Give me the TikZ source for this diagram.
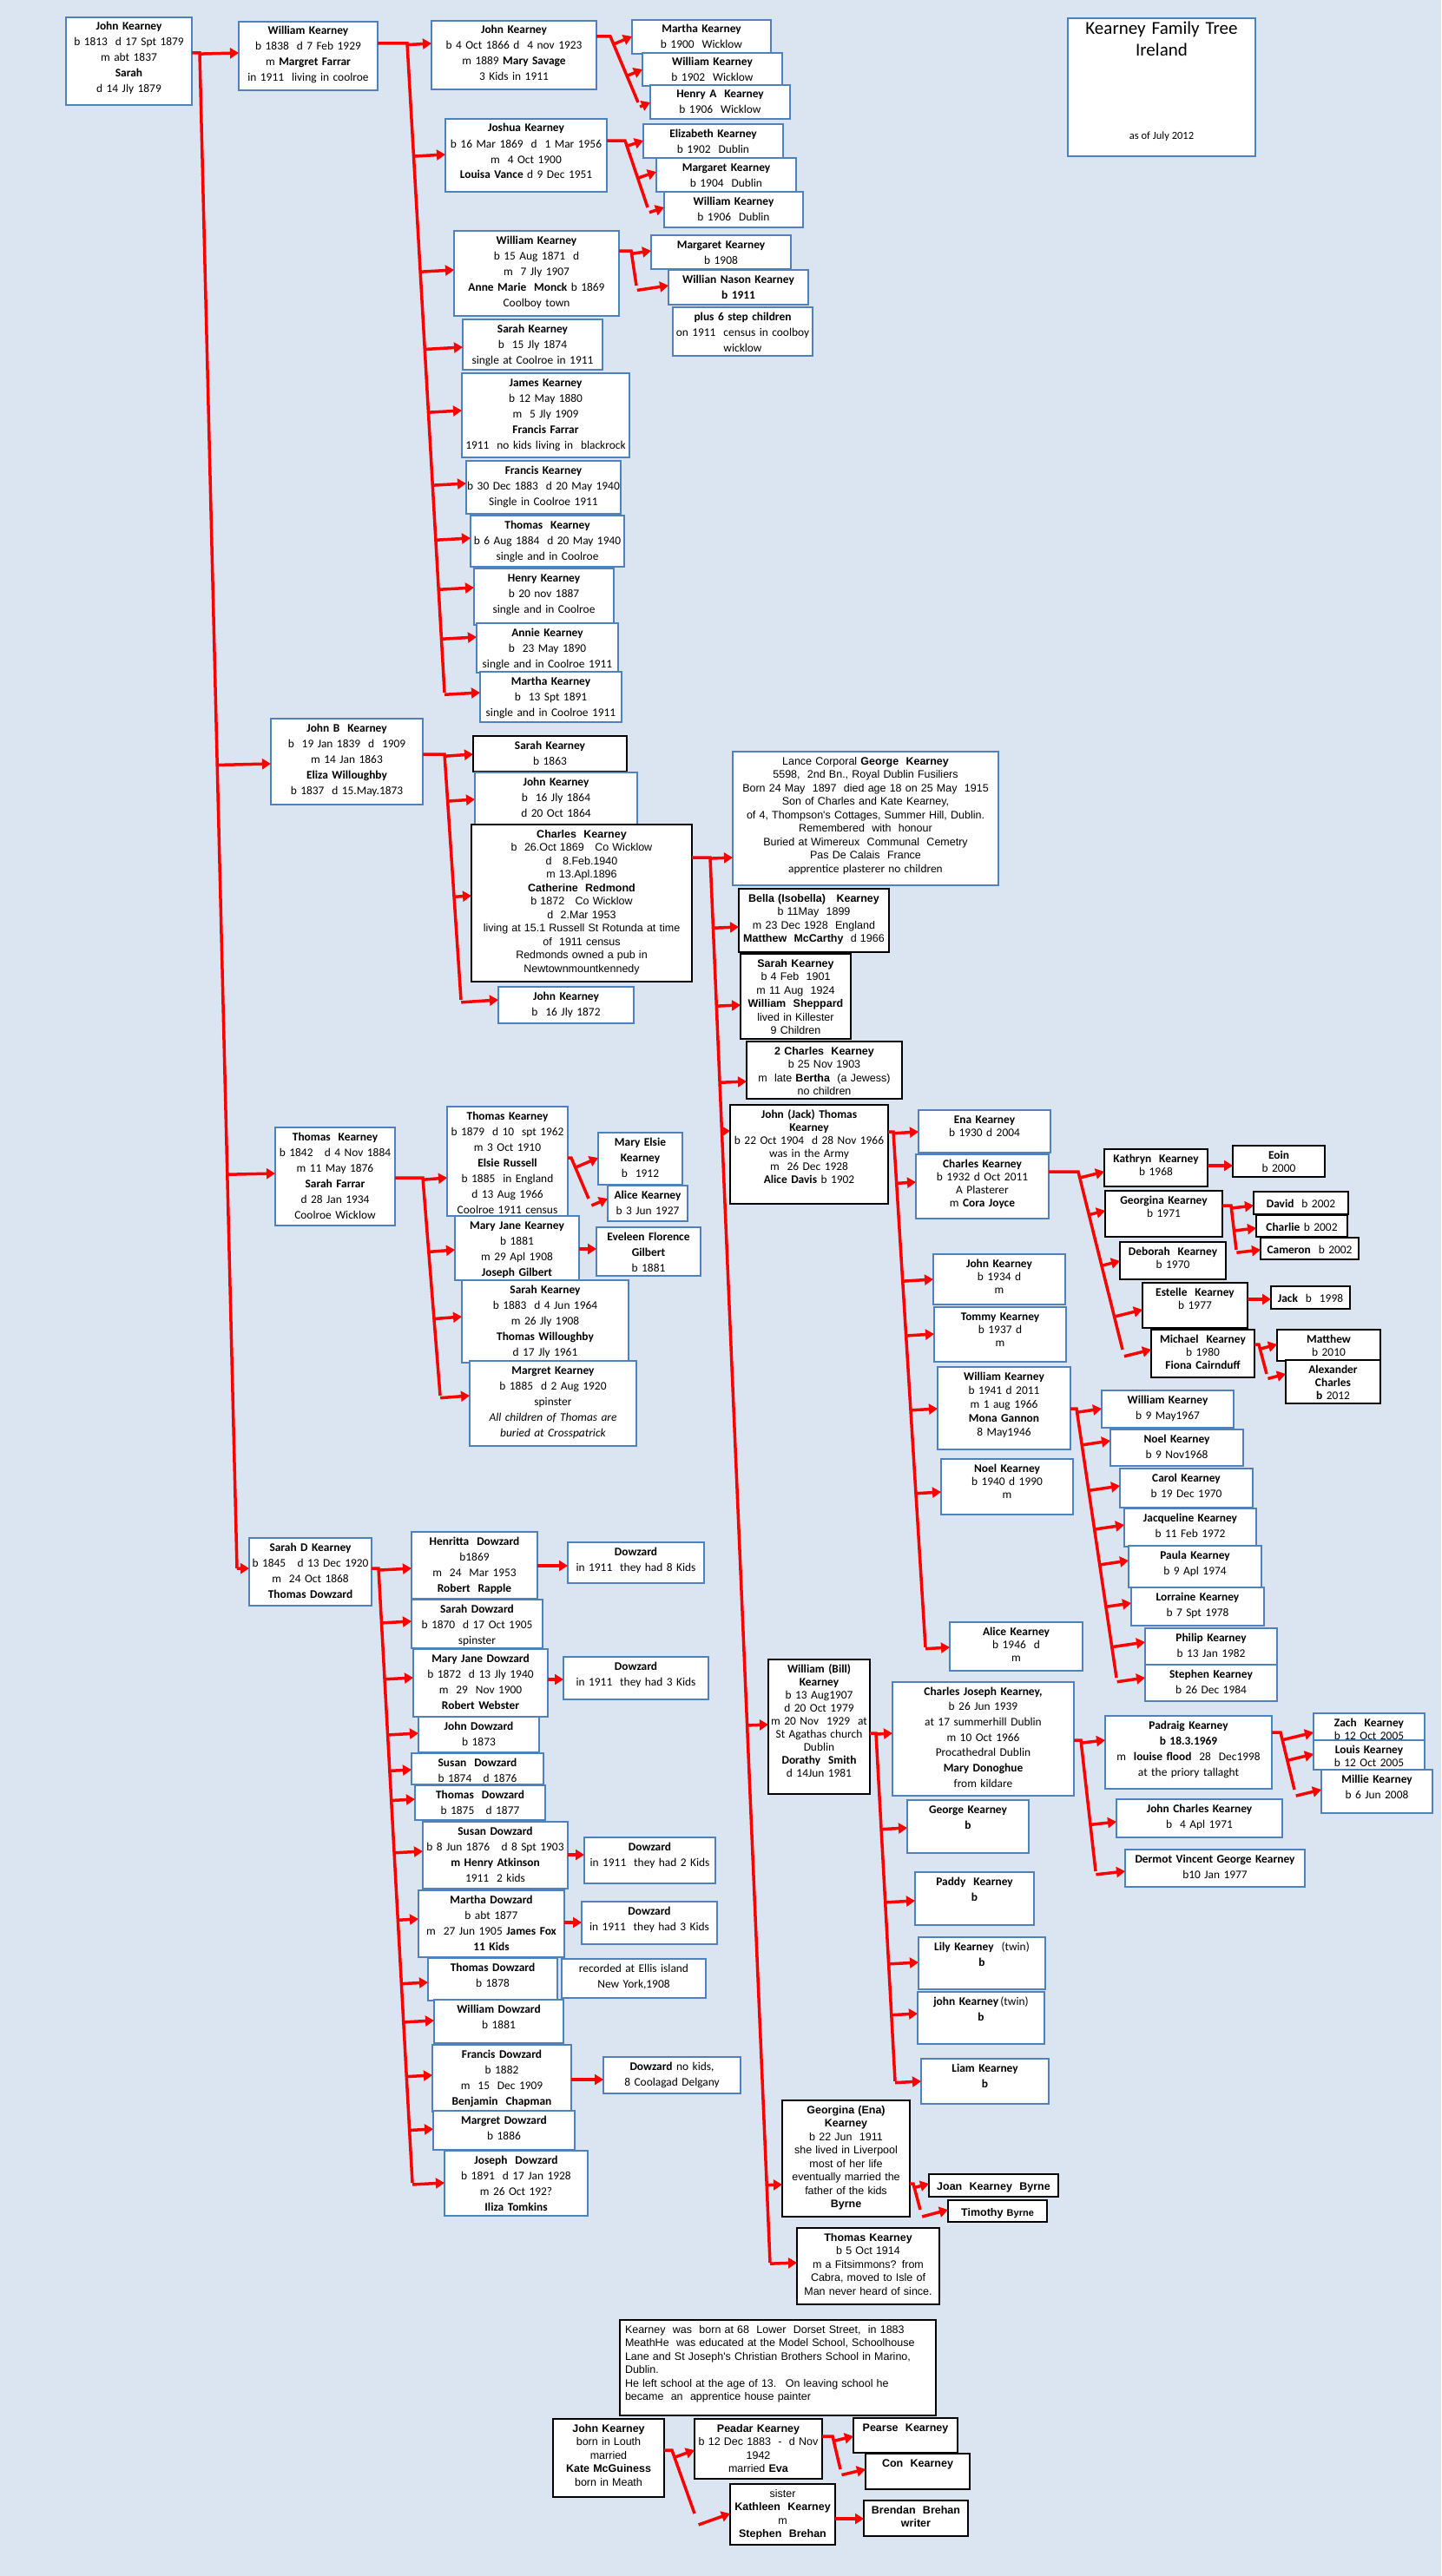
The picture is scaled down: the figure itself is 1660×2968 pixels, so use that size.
\documentclass[tikz,border=0pt]{standalone}
\usepackage{fontspec}
\setmainfont{Carlito}
\newfontfamily\arialfont{Liberation Sans}
\usetikzlibrary{arrows.meta,calc}
\definecolor{sheet}{RGB}{219,229,241}
\definecolor{rim}{RGB}{79,129,189}
\tikzset{
  pb/.style={draw=rim,fill=white,line width=1.2pt,anchor=north,align=center,inner xsep=-10pt,inner ysep=0pt,outer sep=0pt,text height=15pt,font=\fontsize{13.4}{18}\selectfont},
  pk/.style={pb,draw=black},
  ct/.style={font=\fontsize{13.4}{15}\selectfont},
  af/.style={font=\arialfont\fontsize{12.5}{15.5}\selectfont},
  sz/.style 2 args={text width=#1pt,text depth=#2pt},
  ln/.style={draw=red,line width=3.5pt},
  arr/.style={ln,-{Triangle[length=10pt,width=12pt]}},
}
\begin{document}
\begin{tikzpicture}[x=1pt,y=-1pt]
\useasboundingbox (0,0) rectangle (1660,2968);
\fill[sheet] (0,0) rectangle (1660,2968);
\node[pb,sz={236}{140},font=\fontsize{21}{25}\selectfont,text height=19pt] (ttl) at (1338,21) {Kearney Family Tree\\Ireland};
\node[font=\fontsize{12.5}{15}\selectfont] (asof) at (1338,157) {as of July 2012};

\node[pb,sz={165}{86}] (jk0) at (148.5,20) {\textbf{John Kearney}\\b 1813~ d 17 Spt 1879\\m abt 1837\\\textbf{Sarah}\\d 14 Jly 1879};
\node[pb,sz={180}{64}] (wk1) at (355,25) {\textbf{William Kearney}\\b 1838~ d 7 Feb 1929\\m \textbf{Margret Farrar}\\in 1911~ living in coolroe};
\node[pb,sz={210}{64}] (jk2) at (592,24) {\textbf{John Kearney}\\b 4 Oct 1866 d~ 4 nov 1923\\m 1889 \textbf{Mary Savage}\\3 Kids in 1911};
\node[pb,sz={180}{24}] (mk1) at (808,23) {\textbf{Martha Kearney}\\b 1900~ Wicklow};
\node[pb,sz={181}{23}] (wk3) at (820.5,61) {\textbf{William Kearney}\\b 1902~ Wicklow};
\node[pb,sz={181}{24}] (hk) at (829.5,98) {\textbf{Henry A~ Kearney}\\b 1906~ Wicklow};
\node[pb,sz={206}{69}] (josh) at (606,137) {\textbf{Joshua Kearney}\\b 16 Mar 1869~ d~ 1 Mar 1956\\m~ 4 Oct 1900\\\textbf{Louisa Vance} d 9 Dec 1951};
\node[pb,sz={181}{24}] (ek) at (821.5,143) {\textbf{Elizabeth Kearney}\\b 1902~ Dublin};
\node[pb,sz={181}{24}] (mgk) at (836.5,182) {\textbf{Margaret Kearney}\\b 1904~ Dublin};
\node[pb,sz={180}{26}] (wk4) at (845,221) {\textbf{William Kearney}\\b 1906~ Dublin};
\node[pb,sz={210}{83}] (wk5) at (618,266) {\textbf{William Kearney}\\b 15 Aug 1871~ d\\m~ 7 Jly 1907\\\textbf{Anne Marie~ Monck} b 1869\\Coolboy town};
\node[pb,sz={181}{24}] (mgk2) at (830.5,271) {\textbf{Margaret Kearney}\\b 1908};
\node[pb,sz={181}{25}] (wnk) at (850.5,311) {\textbf{Willian Nason Kearney}\\\textbf{b 1911}};
\node[pb,sz={181}{41}] (stepk) at (855.5,354) {\textbf{plus 6 step children}\\on 1911~ census in coolboy\\wicklow};
\node[pb,sz={181}{43}] (sk1) at (613.5,368) {\textbf{Sarah Kearney}\\b~ 15 Jly 1874\\single at Coolroe in 1911};
\node[pb,sz={213}{82}] (jmk) at (628.5,430) {\textbf{James Kearney}\\b 12 May 1880\\m~ 5 Jly 1909\\\textbf{Francis Farrar}\\1911~ no kids living in~ blackrock};
\node[pb,sz={198}{46}] (fk) at (626,531) {\textbf{Francis Kearney}\\b 30 Dec 1883~ d 20 May 1940\\Single in Coolroe 1911};
\node[pb,sz={197}{44}] (tk) at (630.5,594) {\textbf{Thomas~ Kearney}\\b 6 Aug 1884~ d 20 May 1940\\single and in Coolroe};
\node[pb,sz={181}{50}] (hk2) at (626.5,655) {\textbf{Henry Kearney}\\b 20 nov 1887\\single and in Coolroe};
\node[pb,sz={183}{42}] (ak) at (630.5,718) {\textbf{Annie Kearney}\\b~ 23 May 1890\\single and in Coolroe 1911};
\node[pb,sz={183}{43}] (mk2) at (634.5,774) {\textbf{Martha Kearney}\\b~ 13 Spt 1891\\single and in Coolroe 1911};

\node[pb,sz={195}{84}] (jb) at (399.5,828) {\textbf{John B~ Kearney}\\b~ 19 Jan 1839~ d~ 1909\\m 14 Jan 1863\\\textbf{Eliza Willoughby}\\b 1837~ d 15.May.1873};
\node[pk,sz={197}{26}] (sk2) at (633.5,848) {\textbf{Sarah Kearney}\\b 1863};
\node[pb,sz={207}{45}] (jk3) at (640.5,890) {\textbf{John Kearney}\\b~ 16 Jly 1864\\d 20 Oct 1864};
\node[pk,af,sz={274}{166}] (ck) at (670,950) {\textbf{Charles~ Kearney}\\b~ 26.Oct 1869~~ Co Wicklow\\d~~ 8.Feb.1940\\m 13.Apl.1896\\\textbf{Catherine~ Redmond}\\b 1872~~ Co Wicklow\\d~ 2.Mar 1953\\living at 15.1 Russell St Rotunda at time\\of~ 1911 census\\Redmonds owned a pub in\\Newtownmountkennedy};
\node[pb,sz={176}{27}] (jk4) at (652,1137) {\textbf{John Kearney}\\b~ 16 Jly 1872};

\node[pb,af,sz={326}{139}] (gk) at (997,866) {Lance Corporal \textbf{George~ Kearney}\\5598,~ 2nd Bn., Royal Dublin Fusiliers\\Born 24 May~ 1897~ died age 18 on 25 May~ 1915\\Son of Charles and Kate Kearney,\\of 4, Thompson's Cottages, Summer Hill, Dublin.\\Remembered~ with~ honour\\Buried at Wimereux~ Communal~ Cemetry\\Pas De Calais~ France\\{\rmfamily\fontsize{13.4}{15}\selectfont apprentice plasterer no children}};
\node[pk,af,sz={193}{58}] (bk) at (937.5,1024) {\textbf{Bella (Isobella)~~ Kearney}\\b 11May~ 1899\\m 23 Dec 1928~ England\\\textbf{Matthew~ McCarthy}~ d 1966};
\node[pk,af,sz={147}{83}] (sk3) at (916.5,1099) {\textbf{Sarah Kearney}\\b 4 Feb~ 1901\\m 11 Aug~ 1924\\\textbf{William~ Sheppard}\\lived in Killester\\9 Children};
\node[pk,af,sz={199}{51}] (ck2) at (949.5,1200) {\textbf{2 Charles~ Kearney}\\b 25 Nov 1903\\m~ late \textbf{Bertha}~ (a Jewess)\\no children};
\node[pk,ct,sz={202}{99}] (jack) at (932,1273) {\textbf{John (Jack) Thomas}\\\textbf{Kearney}\\b 22 Oct 1904~ d 28 Nov 1966\\was in the Army\\m~ 26 Dec 1928\\\textbf{Alice Davis} b 1902};
\node[pk,ct,sz={137}{140}] (bill) at (943.5,1912) {\textbf{William (Bill)}\\\textbf{Kearney}\\b 13 Aug1907\\d 20 Oct 1979\\m 20 Nov~ 1929~ at\\St Agathas church\\Dublin\\\textbf{Dorathy~ Smith}\\d 14Jun 1981};
\node[pk,af,sz={167}{119}] (gek) at (974.5,2420) {\textbf{Georgina (Ena)}\\\textbf{Kearney}\\b 22 Jun~ 1911\\she lived in Liverpool\\most of her life\\eventually married the\\father of the kids\\\textbf{Byrne}};
\node[pk,af,sz={184}{73}] (tk3) at (1000,2567) {\textbf{Thomas Kearney}\\b 5 Oct 1914\\m a Fitsimmons? from\\Cabra, moved to Isle of\\Man never heard of since.};

\node[pb,ct,sz={172}{34}] (ena) at (1134,1279) {\textbf{Ena Kearney}\\b 1930 d 2004};
\node[pb,ct,sz={173}{59}] (ck3) at (1131.5,1330) {\textbf{Charles Kearney}\\b 1932 d Oct 2011\\A Plasterer\\m \textbf{Cora Joyce}};
\node[pb,ct,sz={172}{43}] (jk5) at (1151,1445) {\textbf{John Kearney}\\b 1934 d\\m};
\node[pb,ct,sz={172}{48}] (tom) at (1152,1506) {\textbf{Tommy Kearney}\\b 1937 d\\m};
\node[pb,sz={173}{80},font=\fontsize{13.4}{16}\selectfont] (wk6) at (1156.5,1575) {\textbf{William Kearney}\\b 1941 d 2011\\m 1 aug 1966\\\textbf{Mona Gannon}\\8 May1946};
\node[pb,ct,sz={172}{49}] (nk) at (1160,1681) {\textbf{Noel Kearney}\\b 1940 d 1990\\m};
\node[pb,ct,sz={173}{41}] (alk) at (1170.5,1869) {\textbf{Alice Kearney}\\b 1946~ d\\m};

\node[pk,ct,sz={139}{28}] (kath) at (1331.5,1324) {\textbf{Kathryn~ Kearney}\\b 1968};
\node[pk,ct,sz={155}{38}] (geo) at (1340.5,1372) {\textbf{Georgina Kearney}\\b 1971};
\node[pk,ct,sz={142}{28}] (deb) at (1351,1431) {\textbf{Deborah~ Kearney}\\b 1970};
\node[pk,ct,sz={141}{37}] (est) at (1376.5,1478) {\textbf{Estelle~ Kearney}\\b 1977};
\node[pk,ct,sz={139}{40}] (mich) at (1385.5,1532) {\textbf{Michael~ Kearney}\\b 1980\\\textbf{Fiona Cairnduff}};
\node[pk,ct,sz={126}{21}] (eoin) at (1473,1320) {\textbf{Eoin}\\b 2000};
\node[pk,ct,sz={129}{8},text height=18pt] (dav) at (1498.5,1373) {\textbf{David}~ b 2002};
\node[pk,ct,sz={125}{7},text height=18pt] (chl) at (1499.5,1400) {\textbf{Charlie} b 2002};
\node[pk,ct,sz={133}{7},text height=18pt] (cam) at (1508.5,1426) {\textbf{Cameron}~ b 2002};
\node[pk,ct,sz={111}{8},text height=18pt] (jk6) at (1509.5,1482) {\textbf{Jack}~ b~ 1998};
\node[pk,ct,sz={139}{21}] (mat) at (1530.5,1532) {\textbf{Matthew}\\b 2010};
\node[pk,ct,sz={129}{35}] (alx) at (1535.5,1567) {\textbf{Alexander}\\\textbf{Charles}\\\textbf{b} 2012};

\node[pb,sz={172}{28}] (wk7) at (1345,1602) {\textbf{William Kearney}\\b 9 May1967};
\node[pb,sz={173}{27}] (nk2) at (1355.5,1647) {\textbf{Noel Kearney}\\b 9 Nov1968};
\node[pb,sz={173}{30}] (car) at (1366.5,1692) {\textbf{Carol Kearney}\\b 19 Dec 1970};
\node[pb,sz={172}{29}] (jac) at (1371,1738) {\textbf{Jacqueline Kearney}\\b 11 Feb 1972};
\node[pb,sz={173}{33}] (pau) at (1376.5,1781) {\textbf{Paula Kearney}\\b 9 Apl 1974};
\node[pb,sz={173}{29}] (lor) at (1379.5,1829) {\textbf{Lorraine Kearney}\\b 7 Spt 1978};
\node[pb,sz={172}{27}] (phi) at (1395,1876) {\textbf{Philip Kearney}\\b 13 Jan 1982};
\node[pb,sz={172}{27}] (stp) at (1395,1918) {\textbf{Stephen Kearney}\\b 26 Dec 1984};

\node[pb,sz={229}{116},font=\fontsize{13.4}{17.7}\selectfont] (cjk) at (1132.5,1938) {\textbf{Charles Joseph Kearney,}\\b 26 Jun 1939\\at 17 summerhill Dublin\\m 10 Oct 1966\\Procathedral Dublin\\\textbf{Mary Donoghue}\\from kildare};
\node[pb,sz={160}{46}] (geok) at (1115,2074) {\textbf{George Kearney}\\\textbf{b}};
\node[pb,sz={157}{46}] (pad) at (1122.5,2157) {\textbf{Paddy~ Kearney}\\\textbf{b}};
\node[pb,sz={166}{45}] (lil) at (1131,2232) {\textbf{Lily Kearney}~ (twin)\\\textbf{b}};
\node[pb,sz={166}{45}] (jtw) at (1130,2295) {\textbf{john Kearney}\,(twin)\\\textbf{b}};
\node[pb,sz={167}{37}] (lia) at (1134.5,2372) {\textbf{Liam Kearney}\\\textbf{b}};
\node[pb,sz={212}{69}] (pdk) at (1369,1977) {\textbf{Padraig Kearney}\\\textbf{b 18.3.1969}\\m~ \textbf{louise flood}~ 28~ Dec1998\\at the priory tallaght};
\node[pb,sz={211}{29}] (jck) at (1381.5,2073) {\textbf{John Charles Kearney}\\b~ 4 Apl 1971};
\node[pb,sz={227}{28}] (der) at (1399.5,2131) {\textbf{Dermot Vincent George Kearney}\\b10 Jan 1977};
\node[pb,ct,sz={148}{16}] (zac) at (1577,1974) {\textbf{Zach~ Kearney}\\b 12 Oct 2005};
\node[pb,ct,sz={148}{19}] (lou) at (1577,2005) {\textbf{Louis Kearney}\\b 12 Oct 2005};
\node[pb,sz={148}{35}] (mil) at (1586,2039) {\textbf{Millie Kearney}\\b 6 Jun 2008};

\node[pb,sz={158}{98}] (tk4) at (386,1299) {\textbf{Thomas~ Kearney}\\b 1842~~ d 4 Nov 1884\\m 11 May 1876\\\textbf{Sarah Farrar}\\d 28 Jan 1934\\Coolroe Wicklow};
\node[pb,sz={159}{111}] (tk5) at (584.5,1275) {\textbf{Thomas Kearney}\\b 1879~ d 10~ spt 1962\\m 3 Oct 1910\\\textbf{Elsie Russell}\\b 1885~ in England\\d 13 Aug 1966\\Coolroe 1911 census};
\node[pb,sz={117}{45}] (mek) at (737.5,1305) {\textbf{Mary Elsie}\\\textbf{Kearney}\\b~ 1912};
\node[pb,sz={112}{26}] (alk2) at (746,1366) {\textbf{Alice Kearney}\\b 3 Jun 1927};
\node[pb,sz={163}{59}] (mjk) at (595.5,1401) {\textbf{Mary Jane Kearney}\\b 1881\\m 29 Apl 1908\\\textbf{Joseph Gilbert}};
\node[pb,sz={140}{41}] (efg) at (747,1414) {\textbf{Eveleen Florence}\\\textbf{Gilbert}\\b 1881};
\node[pb,sz={212}{80}] (sk4) at (628,1475) {\textbf{Sarah Kearney}\\b 1883~ d 4 Jun 1964\\m 26 Jly 1908\\\textbf{Thomas Willoughby}\\d 17 Jly 1961};
\node[pb,sz={212}{83}] (mgk3) at (637,1568) {\textbf{Margret Kearney}\\b 1885~ d 2 Aug 1920\\spinster\\\textit{All children of Thomas are}\\\textit{buried at Crosspatrick}};

\node[pb,sz={161}{63}] (sd) at (357.5,1772) {\textbf{Sarah D Kearney}\\b 1845~~ d 13 Dec 1920\\m~ 24 Oct 1868\\\textbf{Thomas Dowzard}};
\node[pb,sz={165}{62}] (hen) at (546.5,1765) {\textbf{Henritta~ Dowzard}\\b1869\\m~ 24~ Mar 1953\\\textbf{Robert~ Rapple}};
\node[pb,sz={177}{32}] (dz8) at (732.5,1777) {\textbf{Dowzard}\\in 1911~ they had 8 Kids};
\node[pb,sz={171}{41}] (sdz) at (549.5,1843) {\textbf{Sarah Dowzard}\\b 1870~ d 17 Oct 1905\\spinster};
\node[pb,sz={175}{63}] (mjd) at (553.5,1900) {\textbf{Mary Jane Dowzard}\\b 1872~ d 13 Jly 1940\\m~ 29~ Nov 1900\\\textbf{Robert Webster}};
\node[pb,sz={187}{34}] (dz3) at (732.5,1909) {\textbf{Dowzard}\\in 1911~ they had 3 Kids};
\node[pb,sz={159}{26}] (jd) at (551.5,1978) {\textbf{John Dowzard}\\b 1873};
\node[pb,sz={172}{21}] (sud) at (550,2020) {\textbf{Susan~ Dowzard}\\b 1874~~ d 1876};
\node[pb,sz={170}{25}] (thd) at (553,2057) {\textbf{Thomas~ Dowzard}\\b 1875~~ d 1877};
\node[pb,sz={187}{62}] (sud2) at (570.5,2099) {\textbf{Susan Dowzard}\\b 8 Jun 1876~~ d 8 Spt 1903\\\textbf{m Henry Atkinson}\\1911~ 2 kids};
\node[pb,sz={171}{38}] (dz2) at (748.5,2117) {\textbf{Dowzard}\\in 1911~ they had 2 Kids};
\node[pb,sz={188}{62}] (mad) at (566,2178) {\textbf{Martha Dowzard}\\b abt 1877\\m~ 27 Jun 1905 \textbf{James Fox}\\\textbf{11 Kids}};
\node[pb,sz={176}{34}] (dz3b) at (748,2191) {\textbf{Dowzard}\\in 1911~ they had 3 Kids};
\node[pb,sz={169}{34}] (thd2) at (567.5,2256) {\textbf{Thomas Dowzard}\\b 1878};
\node[pb,sz={186}{30}] (ell) at (730,2257) {recorded at Ellis island\\New York,1908};
\node[pb,sz={169}{35}] (wd) at (574.5,2304) {\textbf{William Dowzard}\\b 1881};
\node[pb,sz={180}{62}] (frd) at (578,2356) {\textbf{Francis Dowzard}\\b 1882\\m~ 15~ Dec 1909\\\textbf{Benjamin~ Chapman}};
\node[pb,sz={178}{27}] (dzn) at (774,2370) {\textbf{Dowzard} no kids,\\8 Coolagad Delgany};
\node[pb,sz={183}{30}] (mgd) at (580.5,2432) {\textbf{Margret Dowzard}\\b 1886};
\node[pb,sz={185}{60}] (jod) at (594.5,2478) {\textbf{Joseph~ Dowzard}\\b 1891~ d 17 Jan 1928\\m 26 Oct 192?\\\textbf{Iliza Tomkins}};

\node[pk,af,sz={169}{8},text height=18pt] (joan) at (1144.5,2505) {\textbf{Joan~ Kearney~ Byrne}};
\node[pk,af,sz={134}{7},text height=18pt] (tim) at (1149,2535) {\textbf{Timothy} {\fontsize{11}{13}\selectfont\textbf{Byrne}}};

\node[pk,af,align=left,inner xsep=6pt,sz={352}{95}] (info) at (896,2673) {Kearney~ was~ born at 68~ Lower~ Dorset Street,~ in 1883\\MeathHe~ was educated at the Model School, Schoolhouse\\Lane and St Joseph's Christian Brothers School in Marino,\\Dublin.\\He left school at the age of 13.~ On leaving school he\\became~ an~ apprentice house painter};
\node[pk,af,sz={148}{75}] (jk7) at (701,2787) {\textbf{John Kearney}\\born in Louth\\married\\\textbf{Kate McGuiness}\\born in Meath};
\node[pk,af,sz={167}{54}] (pea) at (873.5,2787) {\textbf{Peadar Kearney}\\b 12 Dec 1883~ -~ d Nov\\1942\\married \textbf{Eva}};
\node[pk,af,sz={141}{55}] (kat) at (901.5,2862) {sister\\\textbf{Kathleen~ Kearney}\\m\\\textbf{Stephen~ Brehan}};
\node[pk,af,sz={140}{25}] (prs) at (1043,2786) {\textbf{Pearse~ Kearney}};
\node[pk,af,sz={140}{26}] (con) at (1057,2827) {\textbf{Con~ Kearney}};
\node[pk,af,sz={140}{26}] (bre) at (1055,2881) {\textbf{Brendan~ Brehan}\\\textbf{writer}};

\coordinate (t0) at (230,61); \coordinate (b0) at (273,1807);
\draw[ln] (jk0.east |- t0) -- (t0) -- (b0);
\foreach \kid/\y in {wk1/61,jb/880,tk4/1352,sd/1807} \draw[arr] ($(t0)!(\kid.west |- 0,\y)!(b0)$) -- (\kid.west |- 0,\y);
\coordinate (t1) at (469,50); \coordinate (b1) at (512,798);
\draw[ln] (wk1.east |- t1) -- (t1) -- (b1);
\foreach \kid/\y in {jk2/50,josh/178,wk5/311,sk1/400,jmk/473,fk/557,tk/620,hk2/677,ak/734,mk2/798} \draw[arr] ($(t1)!(\kid.west |- 0,\y)!(b1)$) -- (\kid.west |- 0,\y);
\coordinate (t2) at (703,42); \coordinate (b2) at (735,118);
\draw[ln] (jk2.east |- t2) -- (t2) -- (b2);
\foreach \kid/\y in {mk1/42,wk3/80,hk/118} \draw[arr] ($(t2)!(\kid.west |- 0,\y)!(b2)$) -- (\kid.west |- 0,\y);
\coordinate (t3) at (720,162); \coordinate (b3) at (746,239);
\draw[ln] (josh.east |- t3) -- (t3) -- (b3);
\foreach \kid/\y in {ek/162,mgk/198,wk4/239} \draw[arr] ($(t3)!(\kid.west |- 0,\y)!(b3)$) -- (\kid.west |- 0,\y);
\coordinate (t4) at (727,289); \coordinate (b4) at (733,329);
\draw[ln] (wk5.east |- t4) -- (t4) -- (b4);
\foreach \kid/\y in {mgk2/289,wnk/329} \draw[arr] ($(t4)!(\kid.west |- 0,\y)!(b4)$) -- (\kid.west |- 0,\y);
\coordinate (t5) at (512,869); \coordinate (b5) at (531,1152);
\draw[ln] (jb.east |- t5) -- (t5) -- (b5);
\foreach \kid/\y in {sk2/869,jk3/921,ck/1032,jk4/1152} \draw[arr] ($(t5)!(\kid.west |- 0,\y)!(b5)$) -- (\kid.west |- 0,\y);
\coordinate (t6) at (818,988); \coordinate (b6) at (887,2607);
\draw[ln] (ck.east |- t6) -- (t6) -- (b6);
\foreach \kid/\y in {gk/988,bk/1068,sk3/1158,ck2/1246,jack/1303,bill/1987,gek/2517,tk3/2607} \draw[arr] ($(t6)!(\kid.west |- 0,\y)!(b6)$) -- (\kid.west |- 0,\y);
\coordinate (t7) at (1029,1304); \coordinate (b7) at (1066,1898);
\draw[ln] (jack.east |- t7) -- (t7) -- (b7);
\foreach \kid/\y in {ena/1304,ck3/1362,jk5/1474,tom/1537,wk6/1623,nk/1719,alk/1898} \draw[arr] ($(t7)!(\kid.west |- 0,\y)!(b7)$) -- (\kid.west |- 0,\y);
\coordinate (t8) at (1242,1350); \coordinate (b8) at (1293,1555);
\draw[ln] (ck3.east |- t8) -- (t8) -- (b8);
\foreach \kid/\y in {kath/1350,geo/1395,deb/1453,est/1509,mich/1555} \draw[arr] ($(t8)!(\kid.west |- 0,\y)!(b8)$) -- (\kid.west |- 0,\y);
\coordinate (t9) at (1418,1389); \coordinate (b9) at (1424,1440);
\draw[ln] (geo.east |- t9) -- (t9) -- (b9);
\foreach \kid/\y in {dav/1389,chl/1415,cam/1440} \draw[arr] ($(t9)!(\kid.west |- 0,\y)!(b9)$) -- (\kid.west |- 0,\y);
\coordinate (t10) at (1450,1549); \coordinate (b10) at (1459,1583);
\draw[ln] (mich.east |- t10) -- (t10) -- (b10);
\foreach \kid/\y in {mat/1549,alx/1583} \draw[arr] ($(t10)!(\kid.west |- 0,\y)!(b10)$) -- (\kid.west |- 0,\y);
\coordinate (t11) at (1240,1623); \coordinate (b11) at (1286,1933);
\draw[ln] (wk6.east |- t11) -- (t11) -- (b11);
\foreach \kid/\y in {wk7/1623,nk2/1660,car/1712,jac/1757,pau/1798,lor/1847,phi/1892,stp/1933} \draw[arr] ($(t11)!(\kid.west |- 0,\y)!(b11)$) -- (\kid.west |- 0,\y);
\coordinate (t12) at (1009,1997); \coordinate (b12) at (1031,2398);
\draw[ln] (bill.east |- t12) -- (t12) -- (b12);
\foreach \kid/\y in {cjk/1997,geok/2106,pad/2190,lil/2261,jtw/2320,lia/2398} \draw[arr] ($(t12)!(\kid.west |- 0,\y)!(b12)$) -- (\kid.west |- 0,\y);
\coordinate (t13) at (1245,2005); \coordinate (b13) at (1262,2156);
\draw[ln] (cjk.east |- t13) -- (t13) -- (b13);
\foreach \kid/\y in {pdk/2005,jck/2099,der/2156} \draw[arr] ($(t13)!(\kid.west |- 0,\y)!(b13)$) -- (\kid.west |- 0,\y);
\coordinate (t14) at (1475,1996); \coordinate (b14) at (1491,2062);
\draw[ln] (pdk.east |- t14) -- (t14) -- (b14);
\foreach \kid/\y in {zac/1996,lou/2021,mil/2062} \draw[arr] ($(t14)!(\kid.west |- 0,\y)!(b14)$) -- (\kid.west |- 0,\y);
\coordinate (t15) at (487,1357); \coordinate (b15) at (507,1608);
\draw[ln] (tk4.east |- t15) -- (t15) -- (b15);
\foreach \kid/\y in {tk5/1357,mjk/1440,sk4/1517,mgk3/1608} \draw[arr] ($(t15)!(\kid.west |- 0,\y)!(b15)$) -- (\kid.west |- 0,\y);
\coordinate (t16) at (658,1334); \coordinate (b16) at (678,1381);
\draw[ln] (tk5.east |- t16) -- (t16) -- (b16);
\foreach \kid/\y in {mek/1334,alk2/1381} \draw[arr] ($(t16)!(\kid.west |- 0,\y)!(b16)$) -- (\kid.west |- 0,\y);
\coordinate (t17) at (436,1807); \coordinate (b17) at (475,2515);
\draw[ln] (sd.east |- t17) -- (t17) -- (b17);
\foreach \kid/\y in {hen/1807,sdz/1868,mjd/1933,jd/1997,sud/2039,thd/2073,sud2/2133,mad/2211,thd2/2284,wd/2328,frd/2391,mgd/2453,jod/2515} \draw[arr] ($(t17)!(\kid.west |- 0,\y)!(b17)$) -- (\kid.west |- 0,\y);
\coordinate (t18) at (1052,2516); \coordinate (b18) at (1060,2546);
\draw[ln] (gek.east |- t18) -- (t18) -- (b18);
\foreach \kid/\y in {joan/2516,tim/2546} \draw[arr] ($(t18)!(\kid.west |- 0,\y)!(b18)$) -- (\kid.west |- 0,\y);
\coordinate (t19) at (774,2823); \coordinate (b19) at (800,2896);
\draw[ln] (jk7.east |- t19) -- (t19) -- (b19);
\foreach \kid/\y in {pea/2823,kat/2896} \draw[arr] ($(t19)!(\kid.west |- 0,\y)!(b19)$) -- (\kid.west |- 0,\y);
\coordinate (t20) at (959,2807); \coordinate (b20) at (968,2845);
\draw[ln] (pea.east |- t20) -- (t20) -- (b20);
\foreach \kid/\y in {prs/2807,con/2845} \draw[arr] ($(t20)!(\kid.west |- 0,\y)!(b20)$) -- (\kid.west |- 0,\y);
\foreach \a/\b/\y in {kath/eoin/1343,est/jk6/1497,mjk/efg/1439,hen/dz8/1804,mjd/dz3/1935,sud2/dz2/2137,mad/dz3b/2215,frd/dzn/2396,kat/bre/2902} \draw[arr] (\a.east |- 0,\y) -- (\b.west |- 0,\y);
\end{tikzpicture}
\end{document}
